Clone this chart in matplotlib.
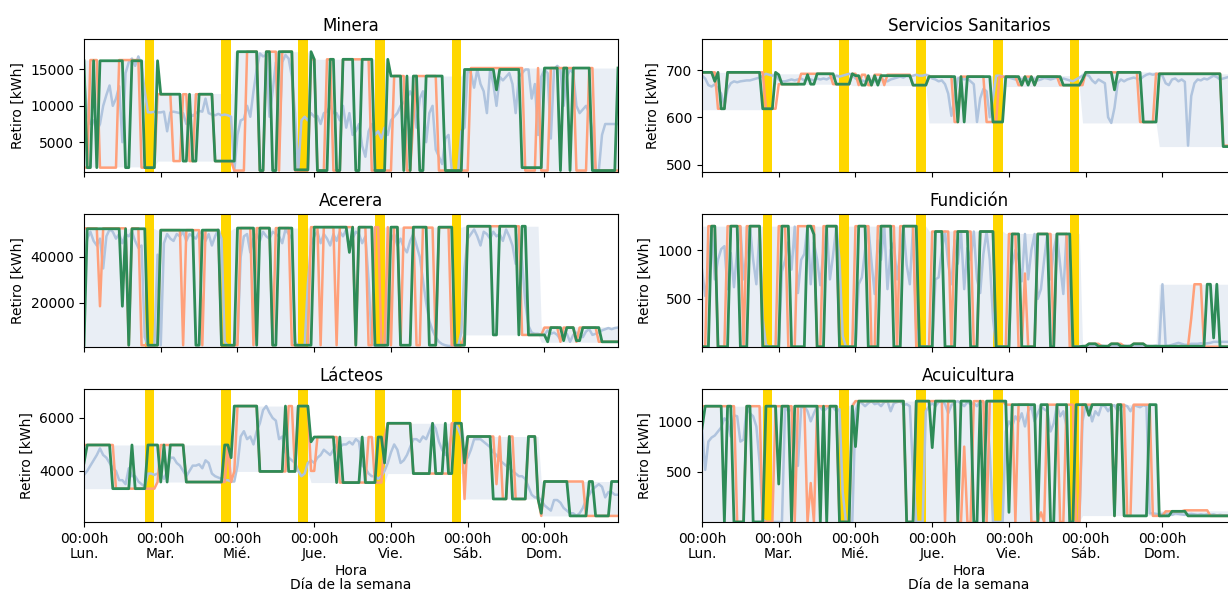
import numpy as np
import matplotlib.pyplot as plt

horas = np.arange(168)
dias = ['Lun.', 'Mar.', 'Mié.', 'Jue.', 'Vie.', 'Sáb.', 'Dom.']
franjas_punta = [(19, 22), (43, 46), (67, 70), (91, 94), (115, 118)]

# ---------------- Minera ----------------
minera_real = [
    14000, 9000, 7500, 8000, 6500, 7500, 10000, 11500, 12800, 10000, 11000, 12700, 5000, 14500, 16000, 16500, 15500, 16800, 15500, 12000, 9100, 9100, 9200, 9100,
    9100, 9200, 6500, 9100, 9200, 9100, 9000, 9000, 7500, 9000, 8600, 9000, 9300, 9200, 11000, 9000, 8800, 8700, 8900, 8700, 8800, 8700, 8500, 1000,
    6000, 8000, 8200, 10000, 8500, 12000, 15000, 17200, 16800, 17000, 8500, 12000, 16000, 4500, 16000, 17000, 16500, 14000, 9000, 1000, 8000, 8500, 8000, 9000,
    8500, 8600, 7500, 9000, 9200, 10000, 9000, 9000, 8000, 10000, 7000, 9000, 6000, 6500, 7500, 4500, 3000, 6500, 7500, 6000, 6500, 5500, 7000, 6000,
    8000, 8500, 9000, 10000, 10500, 11000, 12000, 11000, 7000, 11000, 12000, 5000, 9000, 10000, 4000, 3000, 2000, 5500, 6000, 1200, 1000, 1000, 6500, 7000,
    15000, 14500, 12500, 15000, 13000, 12000, 9000, 15000, 13000, 10000, 14000, 13500, 14000, 14500, 13000, 9000, 14000, 14500, 15000, 15000, 11000, 13000, 6000, 14000,
    15000, 14500, 5500, 15000, 15500, 15000, 10000, 14000, 15000, 14500, 10000, 9000, 9500, 10000, 9000, 6500, 1100, 1100, 6000, 7500, 7500, 7500, 7500, 7500,
]
minera_banda = [(1600, 16300, 23), (2400, 11700, 24), (1100, 17450, 24), (1100, 16400, 24),
                (1100, 14100, 24), (1100, 15200, 49)]
minera_naranja = [
    (1500, 2), (16300, 3), (1500, 6), (16300, 7), (1500, 5),
    (11600, 5), (2400, 3), (11600, 2), (2400, 2), (11600, 6), (2400, 6),
    (1100, 4), (17450, 4), (1100, 2), (17450, 4), (1100, 1), (17450, 4), (1100, 5),
    (16400, 2), (1100, 3), (16400, 2), (1100, 3), (16400, 9), (1100, 5),
    (1100, 2), (14100, 4), (1100, 2), (8000, 1), (14100, 7), (1100, 8),
    (1100, 2), (15200, 17), (1100, 4), (15200, 1), (1100, 3), (15200, 8), (1100, 4), (15200, 2), (1100, 8),
]
minera_verde = [
    (16200, 1), (1500, 2), (16200, 1), (1500, 1), (16200, 8), (1500, 2), (16200, 4), (1500, 4),
    (16200, 1), (11600, 7), (2400, 2), (11600, 1), (2400, 2), (11600, 5), (2400, 7),
    (17450, 7), (1100, 2), (17450, 2), (1100, 2), (17450, 5), (1200, 5),
    (17450, 1), (16400, 1), (1100, 4), (16400, 2), (1100, 2), (16400, 4), (1100, 2), (16400, 4), (1100, 4),
    (16400, 1), (14100, 4), (1100, 1), (14100, 1), (1100, 1), (14100, 2), (1100, 2), (14100, 6), (1100, 6),
    (15000, 10), (12200, 1), (15000, 7), (1500, 7), (15200, 5), (1100, 1), (15200, 2), (1100, 1), (15200, 6), (1100, 8), (15200, 1),
]

# ---------------- Servicios Sanitarios ----------------
sanitarios_real = [
    688, 682, 668, 665, 670, 660, 650, 625, 660, 672, 676, 674, 676, 677, 678, 678, 680, 682, 684, 688, 692, 690, 688, 690,
    680, 676, 676, 678, 680, 678, 680, 682, 678, 680, 680, 678, 682, 680, 682, 680, 684, 682, 688, 686, 688, 690, 692, 690,
    682, 680, 678, 676, 680, 678, 676, 678, 680, 678, 676, 680, 682, 684, 686, 684, 688, 686, 688, 690, 688, 688, 690, 688,
    682, 680, 676, 678, 670, 650, 603, 640, 682, 684, 680, 682, 676, 670, 590, 640, 660, 655, 600, 640, 688, 688, 686, 684,
    684, 682, 680, 683, 680, 684, 682, 680, 682, 678, 680, 683, 682, 680, 682, 684, 680, 682, 680, 678, 676, 680, 684, 688,
    690, 688, 678, 672, 680, 676, 672, 600, 588, 620, 672, 680, 676, 680, 682, 684, 682, 680, 686, 690, 692, 690, 692, 690,
    688, 672, 668, 680, 682, 676, 680, 675, 540, 645, 672, 680, 678, 682, 680, 684, 688, 685, 680, 682, 684, 686, 688, 688,
]
sanitarios_banda = [(616, 695, 23), (670, 692, 24), (667, 690, 24), (588, 688, 24),
                    (665, 688, 24), (588, 696, 24), (538, 692, 25)]
sanitarios_naranja = [
    (695, 5), (618, 3), (695, 12), (618, 3),
    (618, 1), (670, 7), (692, 10), (670, 6),
    (692, 2), (668, 1), (690, 2), (668, 2), (690, 3), (668, 1), (690, 8), (668, 5),
    (686, 8), (590, 2), (686, 8), (590, 4), (686, 2),
    (686, 4), (668, 2), (686, 3), (668, 1), (686, 7), (668, 7),
    (668, 1), (695, 17), (590, 5), (692, 1),
    (692, 20), (540, 5),
]
sanitarios_verde = [
    (695, 4), (676, 1), (695, 1), (618, 2), (695, 11), (618, 4),
    (695, 1), (690, 1), (670, 8), (690, 1), (670, 2), (692, 6), (670, 5),
    (692, 1), (688, 2), (668, 2), (688, 1), (668, 1), (688, 1), (668, 1), (688, 10), (668, 5),
    (686, 9), (590, 1), (686, 1), (590, 1), (686, 8), (590, 4),
    (686, 5), (668, 1), (686, 1), (668, 1), (686, 1), (668, 1), (686, 8), (668, 6),
    (680, 1), (695, 9), (658, 1), (695, 8), (590, 5),
    (692, 20), (538, 5),
]

# ---------------- Acerera ----------------
acerera_real = [
    38000, 48000, 51000, 47000, 45000, 48000, 35000, 49000, 52000, 51000, 48000, 50000, 46000, 50000, 49000, 51000, 47000, 44000, 45000, 5000, 1200, 1200, 1200, 41000,
    1500, 46000, 50000, 48000, 47000, 50000, 49000, 51000, 47000, 50000, 49000, 48000, 51000, 50000, 47000, 50000, 45000, 49000, 52000, 48000, 3000, 1200, 1200, 1200,
    3000, 40000, 49000, 50000, 42000, 48000, 50000, 47000, 51000, 49000, 48000, 51000, 50000, 49000, 46000, 52000, 50000, 48000, 3000, 1200, 1200, 1200, 28000, 45000,
    49000, 51000, 46000, 50000, 48000, 45000, 50000, 47000, 51000, 49000, 52000, 43000, 48000, 51000, 50000, 46000, 49000, 30000, 2000, 1200, 1200, 1200, 1200, 30000,
    47000, 50000, 45000, 48000, 44000, 42000, 47000, 50000, 45000, 40000, 30000, 20000, 12000, 8000, 5000, 3000, 2000, 1500, 1200, 1200, 1200, 1200, 7000, 35000,
    48000, 50000, 52000, 49000, 45000, 51000, 50000, 48000, 51000, 49000, 50000, 47000, 52000, 49000, 45000, 37000, 50000, 38000, 20000, 10000, 7000, 6500, 6500, 6000,
    6000, 8000, 6500, 7000, 6000, 4000, 7500, 6500, 3000, 6000, 7000, 6500, 5000, 7500, 8500, 6000, 6500, 7000, 8000, 8500, 9000, 8500, 9000, 9200,
]
acerera_banda = [(810, 52300, 23), (810, 51700, 24), (810, 52600, 24), (810, 53000, 24),
                 (810, 53000, 24), (6000, 53400, 24), (2800, 9500, 25)]
acerera_naranja = [
    (52500, 5), (18500, 1), (52500, 8), (1500, 1), (52500, 3), (1500, 5),
    (1500, 1), (51700, 7), (1500, 1), (51700, 5), (1500, 1), (51700, 5), (1500, 4),
    (1500, 2), (52600, 4), (1500, 1), (52600, 5), (1500, 1), (52600, 5), (1500, 6),
    (53000, 3), (1500, 1), (53000, 4), (1500, 1), (53000, 5), (1500, 1), (53000, 3), (1500, 2), (53000, 2), (1500, 2),
    (53000, 1), (1500, 1), (53000, 2), (1500, 1), (52800, 4), (1500, 2), (52800, 4), (1500, 1), (52800, 4), (1500, 4),
    (6000, 1), (53400, 17), (6000, 6),
    (6000, 1), (9200, 5), (3000, 1), (9200, 4), (3000, 1), (9200, 6), (3000, 7),
]
acerera_verde = [
    (1500, 1), (52300, 11), (18500, 1), (52300, 1), (1500, 1), (52300, 5), (1500, 3),
    (1500, 1), (51700, 11), (1500, 2), (51700, 6), (1500, 4),
    (1500, 1), (52600, 6), (1500, 1), (52600, 4), (1500, 2), (52600, 5), (1500, 5),
    (1500, 1), (53000, 11), (42000, 1), (53000, 1), (1500, 1), (53000, 5), (1500, 4),
    (1500, 1), (53000, 3), (1500, 4), (53000, 5), (1500, 3), (53000, 5), (1500, 3),
    (1500, 1), (53400, 8), (6000, 2), (53400, 6), (6000, 1), (53400, 2), (6000, 4),
    (6000, 2), (3000, 1), (9200, 4), (3500, 1), (9200, 3), (3500, 2), (9200, 6), (3000, 6),
]

# ---------------- Fundición ----------------
fundicion_real = [
    800, 530, 760, 1240, 700, 900, 1010, 1040, 600, 970, 620, 1000, 1240, 700, 980, 1240, 900, 650, 1200, 300, 30, 10, 10, 10,
    10, 780, 900, 1080, 800, 1240, 560, 900, 960, 1245, 650, 1080, 900, 640, 1000, 1245, 700, 950, 1245, 900, 120, 10, 10, 10,
    10, 650, 720, 1000, 1245, 880, 550, 1100, 900, 1245, 600, 1000, 1080, 700, 1000, 1245, 850, 650, 1245, 200, 10, 10, 10, 10,
    10, 700, 720, 1000, 1190, 860, 650, 1100, 860, 1190, 600, 1020, 900, 1190, 700, 560, 960, 1190, 900, 300, 10, 10, 10, 10,
    20, 840, 1000, 900, 680, 1165, 700, 1000, 1165, 500, 600, 900, 1165, 700, 1000, 1165, 850, 550, 1165, 450, 20, 10, 15, 10,
    15, 15, 20, 20, 15, 20, 15, 15, 20, 20, 15, 15, 20, 15, 20, 20, 15, 15, 20, 20, 15, 15, 20, 15,
    650, 20, 20, 30, 40, 50, 40, 30, 30, 40, 40, 40, 45, 40, 45, 50, 60, 60, 60, 60, 60, 60, 60, 60,
]
fundicion_banda = [(8, 1245, 23), (8, 1245, 24), (8, 1245, 24), (8, 1195, 24),
                   (8, 1170, 24), (15, 40, 24), (10, 650, 25)]
fundicion_naranja = [
    (10, 2), (1245, 3), (10, 3), (1245, 5), (10, 1), (1245, 5), (10, 4),
    (10, 1), (1245, 3), (10, 3), (1245, 6), (10, 2), (1245, 5), (10, 4),
    (10, 1), (1245, 5), (10, 2), (1245, 6), (10, 1), (1245, 5), (10, 4),
    (10, 1), (1190, 6), (10, 1), (1190, 6), (10, 2), (1190, 5), (10, 3),
    (10, 1), (1165, 3), (10, 2), (760, 1), (10, 3), (1165, 5), (10, 1), (1165, 4), (10, 4),
    (15, 2), (40, 4), (15, 3), (40, 4), (15, 3), (40, 4), (15, 4),
    (15, 10), (300, 1), (650, 3), (10, 11),
]
fundicion_verde = [
    (10, 3), (1245, 2), (10, 4), (1245, 3), (10, 3), (1245, 4), (10, 4),
    (10, 2), (1245, 3), (10, 5), (1245, 2), (1160, 1), (10, 3), (1245, 4), (10, 4),
    (10, 2), (1245, 3), (10, 4), (1245, 4), (10, 3), (1245, 5), (10, 3),
    (10, 2), (1190, 3), (10, 4), (1190, 4), (10, 3), (1190, 5), (10, 3),
    (10, 2), (1165, 3), (10, 5), (1165, 4), (10, 2), (1165, 5), (10, 3),
    (15, 2), (40, 3), (15, 4), (40, 3), (15, 4), (40, 4), (15, 4),
    (15, 15), (650, 2), (100, 1), (650, 1), (10, 6),
]

# ---------------- Lácteos ----------------
lacteos_real = [
    3850, 4000, 4200, 4400, 4600, 4850, 4600, 4500, 4300, 4100, 4000, 3650, 3650, 3500, 4100, 3800, 3800, 3600, 3500, 3400, 3900, 3900, 3850, 3900,
    3900, 3700, 4000, 4500, 4500, 4300, 4200, 4000, 3800, 4000, 4200, 4200, 4250, 4100, 4400, 4300, 3900, 3800, 3750, 3700, 3650, 3650, 3600, 3600,
    4200, 5300, 5500, 5200, 5300, 5000, 5500, 5800, 6300, 6450, 6200, 6000, 5900, 5200, 5300, 4700, 4500, 4400, 4300, 4000, 3800, 3900, 4300, 4400,
    4300, 4500, 4600, 4800, 4700, 4600, 4800, 5000, 4900, 5000, 5000, 5100, 5000, 5200, 5100, 4200, 4100, 3900, 3800, 3800, 3700, 3800, 4000, 4300,
    4700, 5000, 4800, 4300, 4400, 4600, 4900, 5200, 5200, 5100, 5300, 5200, 5500, 5800, 5600, 5100, 4800, 4600, 4900, 5400, 5800, 5600, 5300, 4600,
    4500, 4800, 5200, 5200, 5200, 5100, 5000, 4900, 4700, 4600, 4400, 4300, 4200, 4100, 4000, 3900, 3800, 3800, 3700, 3400, 3100, 3000, 3000, 2900,
    2700, 2600, 2500, 2900, 2900, 2800, 2600, 2500, 2400, 2400, 2300, 2400, 2600, 2900, 3100, 3300, 3400, 3500, 3400, 3000, 3200, 3200, 3100, 3100,
]
lacteos_banda = [(3330, 4980, 23), (3580, 4980, 24), (3980, 6450, 24), (3560, 5300, 24),
                 (3900, 5800, 24), (2940, 5300, 24), (2300, 3600, 25)]
lacteos_naranja = [
    (4980, 10), (3330, 13),
    (3580, 1), (4980, 8), (3580, 13), (4980, 1), (3580, 1),
    (3980, 1), (6450, 7), (3980, 9), (6450, 2), (3980, 1), (6450, 4),
    (4000, 2), (5280, 7), (3560, 9), (5280, 2), (3560, 3), (5280, 1),
    (5800, 8), (3900, 12), (5800, 4),
    (2940, 1), (5300, 9), (3500, 1), (5300, 1), (2940, 2), (5300, 2), (2940, 4), (5300, 3), (2940, 1),
    (2300, 1), (3600, 13), (2300, 11),
]
lacteos_verde = [
    (4300, 1), (4980, 8), (3330, 6), (4980, 1), (3330, 4), (4980, 3),
    (4980, 1), (3580, 1), (4980, 1), (3580, 1), (4980, 5), (3580, 12), (4980, 2), (4500, 1),
    (6450, 8), (3980, 8), (6450, 1), (3980, 3), (6450, 4),
    (5100, 1), (5280, 7), (3560, 1), (5280, 1), (3560, 6), (5280, 1), (3560, 4), (5280, 2), (4300, 1),
    (5800, 8), (3900, 6), (5800, 1), (3900, 3), (5800, 1), (3900, 2), (5800, 3),
    (4300, 1), (5300, 8), (2940, 5), (5300, 1), (2940, 5), (5300, 3), (2940, 1),
    (2400, 1), (3600, 8), (2300, 6), (3600, 2), (2300, 5), (3600, 3),
]

# ---------------- Acuicultura ----------------
acuicultura_real = [
    930, 520, 800, 840, 860, 900, 940, 1030, 1000, 850, 1060, 1050, 800, 820, 1150, 1080, 1050, 950, 600, 30, 5, 5, 5, 5,
    5, 5, 1150, 1100, 1120, 1000, 560, 1130, 1150, 1100, 1000, 1080, 1150, 1140, 1100, 1130, 1150, 1140, 1100, 1120, 300, 5, 5, 5,
    1100, 1200, 1180, 1150, 1180, 1200, 1170, 1180, 1150, 1190, 1200, 1100, 1180, 1190, 1200, 1160, 1170, 1150, 500, 5, 5, 5, 1100, 1150,
    1180, 1150, 1190, 1200, 1170, 1080, 1160, 1190, 1200, 1180, 1150, 1190, 1170, 1180, 1150, 1200, 1190, 1100, 700, 5, 5, 5, 5, 900,
    1000, 950, 1050, 1000, 1080, 950, 1100, 1150, 1000, 1080, 1150, 1120, 1100, 900, 980, 1160, 1050, 1100, 950, 5, 5, 5, 5, 1000,
    1160, 1150, 1000, 1100, 1060, 1160, 1150, 1100, 1150, 1160, 1100, 1140, 1160, 1150, 1100, 1160, 1150, 1140, 1160, 1150, 90, 90, 85, 80,
    85, 90, 80, 75, 90, 85, 80, 75, 80, 85, 80, 75, 80, 75, 80, 75, 80, 70, 75, 70, 70, 70, 70, 70,
]
acuicultura_banda = [(5, 1150, 23), (5, 1155, 24), (5, 1200, 24), (5, 1200, 24),
                     (5, 1165, 24), (68, 1165, 24), (68, 115, 25)]
acuicultura_naranja = [
    (1150, 11), (5, 3), (1150, 5), (5, 4),
    (1150, 6), (5, 1), (1150, 3), (5, 1), (390, 1), (5, 1), (1150, 7), (5, 4),
    (1150, 1), (1200, 16), (5, 3), (1200, 4),
    (1200, 5), (5, 1), (1200, 3), (5, 2), (750, 1), (5, 2), (1200, 4), (5, 1), (1200, 5),
    (1165, 3), (5, 1), (1165, 4), (5, 3), (100, 1), (5, 1), (1165, 4), (5, 2), (1165, 3), (5, 2),
    (1165, 10), (65, 1), (1165, 3), (65, 2), (1165, 6), (65, 2),
    (65, 2), (110, 6), (120, 8), (65, 9),
]
acuicultura_verde = [
    (930, 1), (1150, 6), (5, 1), (1150, 2), (5, 4), (1150, 2), (5, 4), (1150, 3),
    (1150, 1), (380, 1), (1150, 3), (5, 1), (1150, 8), (5, 1), (1150, 1), (5, 1), (1150, 3), (5, 4),
    (1150, 1), (750, 1), (1200, 15), (5, 3), (1200, 4),
    (1200, 1), (740, 1), (1200, 7), (5, 1), (1200, 4), (5, 2), (1200, 1), (5, 1), (1200, 6),
    (1200, 1), (100, 1), (1165, 8), (5, 1), (1165, 3), (5, 2), (1165, 4), (5, 2), (1165, 2),
    (1165, 2), (1060, 1), (1165, 7), (65, 1), (1165, 2), (65, 8), (1165, 3),
    (65, 4), (110, 5), (65, 16),
]

paneles = [
    ('Minera', minera_real, minera_banda, minera_naranja, minera_verde),
    ('Servicios Sanitarios', sanitarios_real, sanitarios_banda, sanitarios_naranja, sanitarios_verde),
    ('Acerera', acerera_real, acerera_banda, acerera_naranja, acerera_verde),
    ('Fundición', fundicion_real, fundicion_banda, fundicion_naranja, fundicion_verde),
    ('Lácteos', lacteos_real, lacteos_banda, lacteos_naranja, lacteos_verde),
    ('Acuicultura', acuicultura_real, acuicultura_banda, acuicultura_naranja, acuicultura_verde),
]


def expandir(tramos):
    # tramos = [(valor, horas), ...]
    return np.repeat([t[0] for t in tramos], [t[1] for t in tramos])


fig, axes = plt.subplots(3, 2, figsize=(12.28, 5.92), sharex=True)
fig.subplots_adjust(left=84 / 1228, right=1236 / 1228, top=1 - 39 / 592,
                    bottom=1 - 522 / 592, wspace=84 / 534, hspace=42 / 133)

for ax, (titulo, real, banda, naranja, verde) in zip(axes.flat, paneles):
    real = np.array(real)
    bajo = np.repeat([b[0] for b in banda], [b[2] for b in banda])
    alto = np.repeat([b[1] for b in banda], [b[2] for b in banda])
    nar = expandir(naranja)
    ver = expandir(verde)

    ax.fill_between(horas, bajo, alto, color='#B0C4DE', alpha=0.28, lw=0, zorder=1)
    for ini, fin in franjas_punta:
        ax.axvspan(ini, fin, color='gold', lw=0, zorder=1.5)
    ax.plot(horas, real, color='lightsteelblue', lw=1.8, zorder=2)
    ax.plot(horas, nar, color='lightsalmon', lw=1.8, zorder=2.1)
    ax.plot(horas, ver, color='seagreen', lw=2, zorder=2.2)

    todos = np.concatenate([real, bajo, alto, nar, ver])
    ax.set_ylim(0.9 * todos.min(), 1.1 * todos.max())
    ax.set_xlim(0, 167)
    ax.set_title(titulo, fontsize=12)
    ax.set_ylabel('Retiro [kWh]')

for ax in axes[-1]:
    ax.set_xticks(range(0, 168, 24))
    ax.set_xticklabels(['00:00h\n' + d for d in dias], linespacing=1.1)
    ax.set_xlabel('Hora\nDía de la semana', labelpad=2, linespacing=1.05)

fig.savefig('out.png', dpi=100)
